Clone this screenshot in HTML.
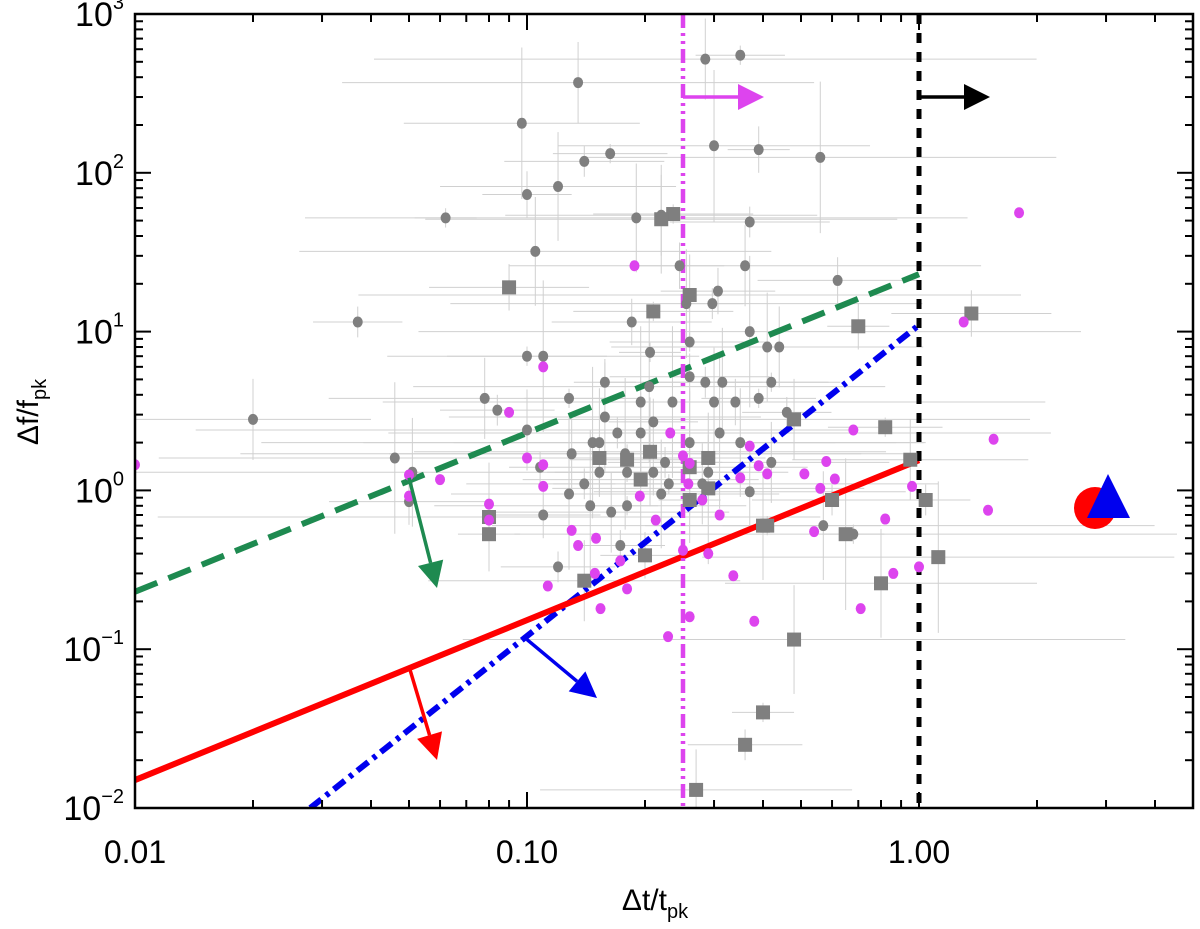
<!DOCTYPE html>
<html><head><meta charset="utf-8"><style>
body{margin:0;background:#fff}
svg{display:block;font-family:"Liberation Sans",sans-serif}
</style></head><body>
<svg id="chart" width="1200" height="929" xmlns="http://www.w3.org/2000/svg">
<g id="errs"></g>
<g id="lines"></g>
<g id="pts"></g>
<g id="ann"></g>
<g id="axes"></g>
<text x="655" y="910" style="font-size:30px" text-anchor="middle">Δt/t<tspan style="font-size:20px" dy="8">pk</tspan></text>
<text transform="translate(38,412) rotate(-90)" style="font-size:30px" text-anchor="middle">Δf/f<tspan style="font-size:20px" dy="8">pk</tspan></text>
</svg>
<script>
// gray circles
const grayCircX=[0.020,0.037,0.046,0.05,0.051,0.062,0.078,0.084,0.097,0.1,0.105,0.1,0.1,0.108,0.11,0.11,0.12,0.128,0.135,0.14,0.147,0.158,0.158,0.163,0.164,0.173,0.178,0.185,0.19,0.206,0.22,0.225,0.235,0.245,0.255,0.26,0.285,0.297,0.3,0.307,0.315,0.35,0.36,0.37,0.37,0.39,0.41,0.42,0.44,0.46,0.56,0.62,0.57,0.68,0.37,0.285,0.195,0.153,0.26,0.18,0.13,0.14,0.145,0.21,0.22,0.23,0.28,0.29,0.31,0.34,0.35,0.39,0.42,0.17,0.205,0.26,0.3,0.18,0.195,0.12,0.128,0.21,0.153];
const grayCircY=[2.8,11.5,1.6,0.85,1.3,52,3.8,3.2,205,73,32,7,2.4,1.4,7,0.7,82,3.8,370,118,2,4.8,2.9,132,0.73,0.45,1.7,11.5,52,7.4,54,1.5,3.6,26,15,8.6,520,15,148,18,4.8,550,26,49,10,140,8,4.8,8,3.1,125,21,0.6,0.53,0.98,4.8,3.6,1.3,2,1.3,1.7,1.1,0.8,1.3,0.95,1.1,1.1,1.3,2.3,3.6,2,3.8,1.5,2.3,4.5,5.2,3.6,0.8,2.3,0.33,0.95,2.7,2];
// gray squares
const graySqX=[0.09,0.08,0.08,0.14,0.18,0.195,0.2,0.206,0.236,0.26,0.26,0.29,0.29,0.4,0.41,0.48,0.6,0.65,0.7,0.8,0.82,0.95,1.04,1.12,1.36,0.48,0.4,0.27,0.36,0.26,0.153,0.22,0.21];
const graySqY=[19,0.68,0.53,0.27,1.56,1.17,0.39,1.75,55,17,0.87,1.03,1.6,0.6,0.6,2.8,0.87,0.53,10.8,0.26,2.5,1.56,0.87,0.38,13,0.115,0.04,0.013,0.025,1.4,1.6,51,13.4];
// magenta circles
const magX=[0.01,0.05,0.05,0.06,0.08,0.08,0.09,0.1,0.11,0.11,0.11,0.113,0.13,0.135,0.15,0.149,0.154,0.173,0.188,0.194,0.213,0.229,0.232,0.25,0.25,0.258,0.26,0.26,0.28,0.29,0.31,0.336,0.35,0.37,0.39,0.41,0.51,0.54,0.56,0.58,0.61,0.68,0.71,0.82,0.86,0.96,1.0,1.3,1.5,1.55,1.8,0.38,0.18];
const magY=[1.45,1.25,0.92,1.17,0.65,0.82,3.1,1.6,6,1.45,1.06,0.25,0.56,0.45,0.5,0.3,0.18,0.36,26,0.92,0.65,0.12,2.3,1.65,0.42,1.1,0.16,1.48,0.87,0.4,0.7,0.29,1.2,1.9,1.43,1.27,1.27,0.55,1.03,1.52,1.18,2.4,0.18,0.66,0.3,1.06,0.33,11.5,0.75,2.1,56,0.15,0.24];
// model lines [x0,y0,x1,y1]
const greenLine=[0.01,0.23,1.0,23];
const blueLine=[0.028,0.01,1.0,11];
const redLine=[0.01,0.015,1.0,1.55];
const magVertX=0.25, blackVertX=1.0;
const xTickVals=[0.01,0.1,1];
const xTickLabels=["0.01","0.10","1.00"];
const yTickExp=[-2,-1,0,1,2,3];

const L=135,R=1193,T=14,B=808;
const XMIN=0.01,XMAX=5,YMIN=0.01,YMAX=1000;
const lx=Math.log10;
function X(v){return L+(lx(v)-lx(XMIN))/(lx(XMAX)-lx(XMIN))*(R-L);}
function Y(v){return B-(lx(v)-lx(YMIN))/(lx(YMAX)-lx(YMIN))*(B-T);}
const NS="http://www.w3.org/2000/svg";
function mk(tag,attrs,parent){const e=document.createElementNS(NS,tag);for(const k in attrs)e.setAttribute(k,attrs[k]);parent.appendChild(e);return e;}
const errs=document.getElementById('errs'),pts=document.getElementById('pts'),lines=document.getElementById('lines'),ann=document.getElementById('ann'),axes=document.getElementById('axes');
const defs=mk('defs',{},document.getElementById('chart'));
const cp=mk('clipPath',{id:'clip'},defs);mk('rect',{x:L,y:T,width:R-L,height:B-T},cp);
errs.setAttribute('clip-path','url(#clip)');lines.setAttribute('clip-path','url(#clip)');pts.setAttribute('clip-path','url(#clip)');
const xf=[2,1.3,4,1.6,7,1.2,2.5,1.4],yf=[1.8,1.25,3,1.4,2.2,1.15];
function eb(x,y,i){
  const a=xf[i%xf.length],b=yf[i%yf.length];
  const h=mk('line',{x1:X(x/a),x2:X(x*a),y1:Y(y),y2:Y(y),stroke:'#d0d0d0','stroke-width':1},errs);
  
  const v=mk('line',{x1:X(x),x2:X(x),y1:Y(y/b),y2:Y(y*b),stroke:'#d0d0d0','stroke-width':1},errs);
  
}
grayCircX.forEach((x,i)=>eb(x,grayCircY[i],i));
graySqX.forEach((x,i)=>eb(x,graySqY[i],i+3));
function ln(a,col,dash,name){const e=mk('line',{x1:X(a[0]),y1:Y(a[1]),x2:X(a[2]),y2:Y(a[3]),stroke:col,'stroke-width':6,'stroke-dasharray':dash},lines);
  }
grayCircX.forEach((x,i)=>{const c=mk('ellipse',{cx:X(x),cy:Y(grayCircY[i]),rx:5,ry:5.5,fill:'#7f7f7f'},pts);
  });
graySqX.forEach((x,i)=>{const c=mk('rect',{x:X(x)-7,y:Y(graySqY[i])-7,width:14,height:14,fill:'#7f7f7f'},pts);
  });
magX.forEach((x,i)=>{const c=mk('ellipse',{cx:X(x),cy:Y(magY[i]),rx:5,ry:5.5,fill:'#dd44ee'},pts);
  });
ln(greenLine,'#1e8a50','24 12','green-dashed-line');
ln(blueLine,'#0000ee','14 6 4 6','blue-dashdot-line');
ln(redLine,'#ff0000','none','red-solid-line');
const mv=mk('line',{x1:X(magVertX),x2:X(magVertX),y1:T,y2:B,stroke:'#dd44ee','stroke-width':4.5,'stroke-dasharray':'14 5 3 5 3 5'},lines);

const bv=mk('line',{x1:X(blackVertX),x2:X(blackVertX),y1:T,y2:B,stroke:'#000','stroke-width':5,'stroke-dasharray':'10 9'},lines);

function arrow(x1,y1,x2,y2,col,name){
  const g=mk('g',{},ann);
  const ang=Math.atan2(y2-y1,x2-x1),hl=26,hw=13;
  const bx=x2-hl*Math.cos(ang),by=y2-hl*Math.sin(ang);
  mk('line',{x1:x1,y1:y1,x2:bx,y2:by,stroke:col,'stroke-width':3.5},g);
  const px=-Math.sin(ang)*hw,py=Math.cos(ang)*hw;
  mk('polygon',{points:`${x2},${y2} ${bx+px},${by+py} ${bx-px},${by-py}`,fill:col},g);
}
arrow(X(magVertX),97,764,97,'#dd44ee','magenta-arrow');
arrow(X(blackVertX),97,990,97,'#000','black-arrow');
arrow(X(0.05),Y(1.2),437,588,'#1e8a50','green-arrow');
arrow(X(0.05),Y(0.078),437,760,'#ff0000','red-arrow');
arrow(X(0.1),Y(0.115),597,698,'#0000ee','blue-arrow');
const rc=mk('ellipse',{cx:1095,cy:508,rx:21,ry:21,fill:'#ff0000'},ann);

const bt=mk('polygon',{points:'1108,474 1087,518 1130,518',fill:'#0000ee'},ann);

// axes frame
const fr=mk('rect',{x:L,y:T,width:R-L,height:B-T,fill:'none',stroke:'#000','stroke-width':2.5},axes);

for(let e=-2;e<=0;e++)for(let m=1;m<10;m++){const v=m*Math.pow(10,e);if(v>XMAX)break;const x=X(v),len=m==1?16:8;
  mk('line',{x1:x,x2:x,y1:B,y2:B-len,stroke:'#000','stroke-width':2},axes);mk('line',{x1:x,x2:x,y1:T,y2:T+len,stroke:'#000','stroke-width':2},axes);}
for(let e=-2;e<3;e++)for(let m=1;m<10;m++){const y=Y(m*Math.pow(10,e)),len=m==1?16:8;
  mk('line',{x1:L,x2:L+len,y1:y,y2:y,stroke:'#000','stroke-width':2},axes);mk('line',{x1:R,x2:R-len,y1:y,y2:y,stroke:'#000','stroke-width':2},axes);}
xTickVals.forEach((v,i)=>{const t=mk('text',{x:X(v),y:863,style:'font-size:32px','text-anchor':'middle'},axes);t.textContent=xTickLabels[i];
  });
yTickExp.forEach(e=>{const y=Y(Math.pow(10,e));const t=mk('text',{x:124,y:y+12,style:'font-size:34px','text-anchor':'end'},axes);
  
  const a=mk('tspan',{},t);a.textContent='10';const s=mk('tspan',{style:'font-size:20px',dy:-17},t);s.textContent=(e<0?'−':'')+Math.abs(e);});
</script>
</body></html>
